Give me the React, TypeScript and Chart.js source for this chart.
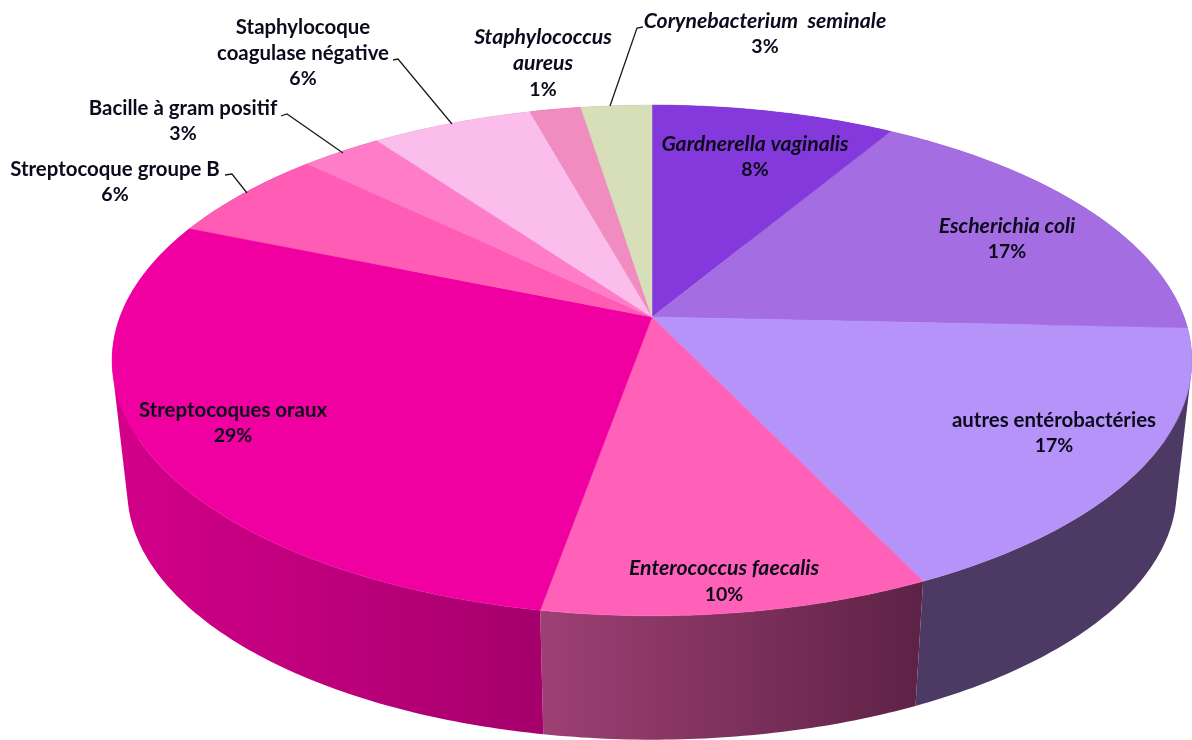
import { useEffect, useRef } from "react";
import { Chart, registerables, ArcElement, PieController } from "chart.js";

const categories = [
  "Gardnerella vaginalis",
  "Escherichia coli",
  "autres entérobactéries",
  "Enterococcus faecalis",
  "Streptocoques oraux",
  "Streptocoque groupe B",
  "Bacille à gram positif",
  "Staphylocoque coagulase négative",
  "Staphylococcus aureus",
  "Corynebacterium seminale",
];
const sliceValues = [8.6, 17.1, 17.2, 9.9, 28.4, 5.9, 2.9, 5.7, 1.8, 2.5];
const shownPercents = ["8%", "17%", "17%", "10%", "29%", "6%", "3%", "6%", "1%", "3%"];
const topColors = ["#8439DC", "#A46DE2", "#B593F9", "#FF61B8", "#F000A0", "#FF5CB5", "#FF7DC8", "#FBBDEC", "#F08CC0", "#D6DFB8"];
const wallStart = ["#4A2080", "#5E3E84", "#4C3A64", "#9E4074", "#D4008A", "#A03070", "#A04078", "#A08098", "#A05880", "#8C9478"];
const wallEnd = ["#4A2080", "#5E3E84", "#4C3A64", "#5E2246", "#A5006C", "#A03070", "#A04078", "#A08098", "#A05880", "#8C9478"];

// label layout: wrapped lines, centre x, vertical centre of each line, italic flag
const labelLines = [
  ["Gardnerella vaginalis"],
  ["Escherichia coli"],
  ["autres entérobactéries"],
  ["Enterococcus faecalis"],
  ["Streptocoques oraux"],
  ["Streptocoque groupe B"],
  ["Bacille à gram positif"],
  ["Staphylocoque", "coagulase négative"],
  ["Staphylococcus", "aureus"],
  ["Corynebacterium  seminale"],
];
const labelX = [755, 1007, 1054, 724, 233, 115, 183, 303, 543, 765];
const labelY = [144, 226, 420, 568, 410, 169, 108, 27, 37, 21];
const lineStep = [26, 26, 26, 26.5, 26, 26, 26, 26, 26.5, 26];
const labelItalic = [true, true, false, true, false, false, false, false, true, true];
const leaders = [
  [[393, 60], [398, 59], [452, 124]],
  [[281, 116], [287, 114], [343, 153]],
  [[225, 175], [232, 174], [247, 193]],
  [[643, 27], [637, 28], [610, 106]],
];

// perspective projection of the unit disc onto the top face
const CX = 652, AY = 317, PA = 532, PB = 194.1, PC = -0.17;
const project = (a: number, r = 1): [number, number] => {
  const u = Math.cos(a) * r, v = Math.sin(a) * r;
  const w = 1 + PC * v;
  return [CX + (PA * u) / w, (AY + PB * v) / w];
};
// the bottom face is the top rim scaled and lowered
const lower = (p: [number, number]): [number, number] => [CX + (p[0] - CX) * 0.972, 490 + (p[1] - 360.5) * 0.978];

class Arc3D extends ArcElement {
  static id = "arc3d";
  static defaults = { ...ArcElement.defaults };
  static defaultRoutes = ArcElement.defaultRoutes;
  draw(ctx: CanvasRenderingContext2D) {
    const { startAngle, endAngle } = this as any;
    ctx.save();
    ctx.fillStyle = (this as any).options.backgroundColor;
    ctx.strokeStyle = ctx.fillStyle;
    ctx.lineWidth = 0.5;
    ctx.beginPath();
    ctx.moveTo(CX, AY);
    const steps = Math.max(4, Math.ceil((endAngle - startAngle) * 80));
    for (let i = 0; i <= steps; i++) {
      const p = project(startAngle + ((endAngle - startAngle) * i) / steps);
      ctx.lineTo(p[0], p[1]);
    }
    ctx.closePath();
    ctx.fill();
    ctx.stroke();
    ctx.restore();
  }
}

class Pie3D extends PieController {
  static id = "pie3d";
  static defaults = { ...PieController.defaults, dataElementType: "arc3d" };
  static overrides = PieController.overrides;
}

Chart.register(...registerables, Arc3D, Pie3D);

const walls = {
  id: "walls",
  beforeDatasetsDraw(chart: any) {
    const ctx: CanvasRenderingContext2D = chart.ctx;
    chart.getDatasetMeta(0).data.forEach((el: any, i: number) => {
      const steps = Math.max(4, Math.ceil((el.endAngle - el.startAngle) * 80));
      const rim: [number, number][] = [];
      for (let k = 0; k <= steps; k++) rim.push(project(el.startAngle + ((el.endAngle - el.startAngle) * k) / steps));
      const xs = rim.map((p) => p[0]);
      const x0 = Math.min(...xs), x1 = Math.max(...xs);
      const g = ctx.createLinearGradient(x0, 0, x1, 0);
      g.addColorStop(0, wallStart[i]);
      g.addColorStop(1, wallEnd[i]);
      ctx.save();
      ctx.fillStyle = g;
      // one path of quads between top and bottom rims, filled once so no seams show
      ctx.beginPath();
      for (let k = 0; k < steps; k++) {
        const a = rim[k], b = rim[k + 1], c = lower(b), d = lower(a);
        const area = (b[0] - a[0]) * (c[1] - a[1]) - (b[1] - a[1]) * (c[0] - a[0]);
        const q = area >= 0 ? [a, b, c, d] : [d, c, b, a];
        ctx.moveTo(q[0][0], q[0][1]);
        ctx.lineTo(q[1][0], q[1][1]);
        ctx.lineTo(q[2][0], q[2][1]);
        ctx.lineTo(q[3][0], q[3][1]);
        ctx.closePath();
      }
      ctx.fill();
      ctx.restore();
    });
  },
};

const annotations = {
  id: "annotations",
  afterDatasetsDraw(chart: any) {
    const ctx: CanvasRenderingContext2D = chart.ctx;
    ctx.save();
    ctx.strokeStyle = "#1c1c1c";
    ctx.lineWidth = 1.3;
    leaders.forEach((pts) => {
      ctx.beginPath();
      pts.forEach((p, i) => (i ? ctx.lineTo(p[0], p[1]) : ctx.moveTo(p[0], p[1])));
      ctx.stroke();
    });
    ctx.textAlign = "center";
    ctx.textBaseline = "middle";
    ctx.fillStyle = "#0d0a1c";
    categories.forEach((_, i) => {
      const all = [...labelLines[i], shownPercents[i]];
      all.forEach((t, k) => {
        const isPct = k === all.length - 1;
        const italic = labelItalic[i] && !isPct;
        const size = isPct ? 19.5 : italic ? 21.2 : 20.4;
        ctx.font = `${italic ? "italic " : ""}bold ${size}px Lato, "Noto Sans", sans-serif`;
        ctx.fillText(t, labelX[i], labelY[i] + k * lineStep[i]);
      });
    });
    ctx.restore();
  },
};

export default function App() {
  const ref = useRef<HTMLCanvasElement>(null);
  useEffect(() => {
    document.body.style.margin = "0";
    const chart = new Chart(ref.current!, {
      type: "pie3d" as any,
      data: {
        labels: categories,
        datasets: [{ data: sliceValues, backgroundColor: topColors, borderWidth: 0 }],
      },
      options: {
        responsive: false,
        animation: false,
        events: [],
        plugins: { legend: { display: false }, tooltip: { enabled: false } },
      } as any,
      plugins: [walls, annotations],
    });
    return () => chart.destroy();
  }, []);
  return <canvas ref={ref} width={1192} height={740} style={{ display: "block", filter: "blur(0.35px)" }} />;
}
